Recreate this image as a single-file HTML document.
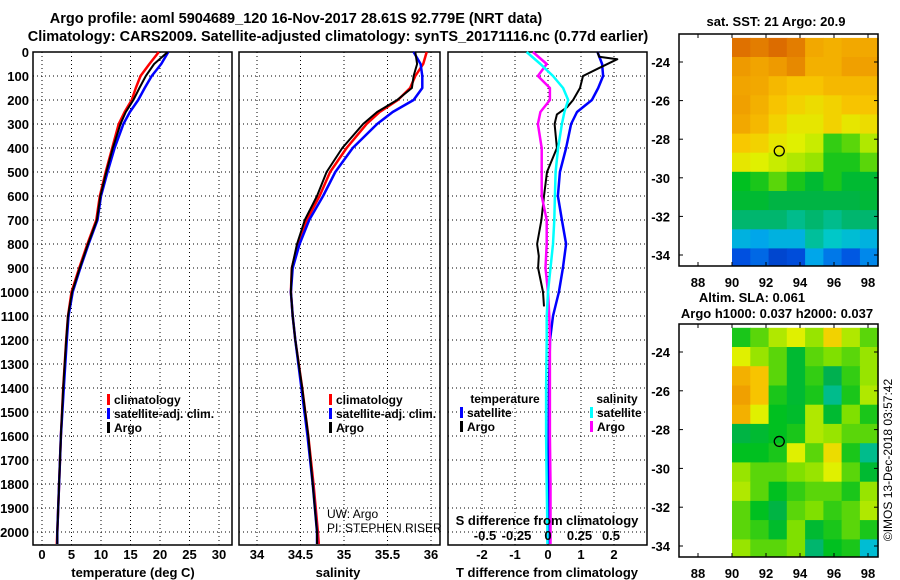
<!DOCTYPE html>
<html><head><meta charset="utf-8"><style>
html,body{margin:0;padding:0;background:#fff;}
svg{display:block;font-family:"Liberation Sans",sans-serif;font-weight:bold;}
</style></head><body>
<svg id="c" width="900" height="580" viewBox="0 0 900 580">
<text x="296" y="23" font-size="14.5" text-anchor="middle">Argo profile: aoml 5904689_120 16-Nov-2017 28.61S 92.779E (NRT data)</text>
<text x="338" y="41" font-size="14.5" text-anchor="middle">Climatology: CARS2009. Satellite-adjusted climatology: synTS_20171116.nc (0.77d earlier)</text>
</svg>
<script>
// ---------- data ----------
const depths = [0,50,100,150,200,250,300,400,500,600,700,800,900,1000,1100,1200,1400,1600,1800,2000,2050];
const tempClim = [19.8,18.2,16.7,15.9,15.2,14.0,13.0,11.9,10.8,9.8,9.2,7.7,6.3,5.0,4.4,4.1,3.6,3.2,2.9,2.6,2.5];
const tempSat  = [21.4,20.2,18.6,17.4,16.3,14.9,13.8,12.3,11.1,10.0,9.4,7.9,6.5,5.2,4.5,4.2,3.7,3.2,2.9,2.6,2.6];
const tempArgo = [21.3,19.0,17.6,16.5,15.5,14.2,13.3,12.0,10.9,9.9,9.3,7.8,6.4,5.1,4.4,4.1,3.6,3.2,2.9,2.6,2.6];
const salClim = [35.95,35.91,35.82,35.76,35.62,35.41,35.26,35.03,34.84,34.72,34.57,34.47,34.4,34.39,34.41,34.44,34.52,34.59,34.65,34.70,34.71];
const salSat  = [35.80,35.88,35.90,35.90,35.80,35.56,35.38,35.10,34.90,34.76,34.60,34.49,34.41,34.39,34.41,34.44,34.51,34.58,34.64,34.69,34.69];
const salArgo = [35.82,35.84,35.80,35.78,35.61,35.38,35.22,34.98,34.80,34.69,34.55,34.46,34.40,34.39,34.41,34.44,34.52,34.59,34.64,34.69,34.69];
const tdiffSat = [1.5,1.64,1.67,1.52,1.33,0.88,0.7,0.55,0.36,0.3,0.42,0.55,0.45,0.33,0.15,0.06,0.03,0.02,0.02,0.03,0.03];
const dArgoDepths = [0,20,30,70,100,150,200,230,260,300,400,500,600,700,800,850,900,1000,1060];
const tdiffArgo = [1.5,1.55,2.1,1.5,1.06,0.97,0.76,0.58,0.27,0.2,0.27,-0.03,-0.12,-0.2,-0.33,-0.28,-0.3,-0.15,-0.12];
const sdiffSat = [-0.17,-0.06,0.04,0.12,0.16,0.13,0.11,0.08,0.06,0.055,0.05,0.04,0.02,0.0,-0.01,-0.01,-0.015,-0.015,-0.01,-0.005,-0.005];
const sdiffArgo = [-0.12,-0.01,-0.08,0.015,0.015,-0.06,-0.08,-0.05,-0.05,-0.05,-0.01,-0.01,-0.02,0.0,0.01,0.015,0.015,0.015,0.02,0.02,0.02];
const depthTicks = [0,100,200,300,400,500,600,700,800,900,1000,1100,1200,1300,1400,1500,1600,1700,1800,1900,2000];
const tempTicks = [0,5,10,15,20,25,30];
const salTicks = [34,34.5,35,35.5,36];
const salTickLabels = ["34","34.5","35","35.5","36"];
const tdTicks = [-2,-1,0,1,2];
const sdTicks = [-0.5,-0.25,0,0.25,0.5];
const sdTickLabels = ["-0.5","-0.25","0","0.25","0.5"];
const lonTicks = [88,90,92,94,96,98];
const latTicks = [-24,-26,-28,-30,-32,-34];
const floatLon = 92.78, floatLat = -28.61;
const sstGrid = [
[0.92,0.9,0.93,0.9,0.82,0.8,0.82,0.82],
[0.85,0.83,0.85,0.88,0.8,0.8,0.84,0.84],
[0.83,0.82,0.78,0.75,0.75,0.78,0.78,0.78],
[0.84,0.8,0.75,0.72,0.7,0.72,0.75,0.75],
[0.82,0.78,0.72,0.68,0.68,0.72,0.68,0.7],
[0.74,0.72,0.68,0.66,0.64,0.52,0.55,0.62],
[0.68,0.66,0.64,0.62,0.6,0.5,0.5,0.55],
[0.48,0.5,0.55,0.5,0.45,0.5,0.45,0.45],
[0.45,0.45,0.42,0.42,0.42,0.42,0.42,0.44],
[0.38,0.38,0.38,0.36,0.38,0.36,0.38,0.38],
[0.28,0.26,0.28,0.28,0.35,0.32,0.3,0.28],
[0.15,0.18,0.12,0.14,0.26,0.2,0.16,0.22]];
const slaGrid = [
[0.5,0.55,0.62,0.66,0.6,0.72,0.62,0.55],
[0.66,0.6,0.55,0.45,0.55,0.58,0.55,0.6],
[0.8,0.75,0.55,0.45,0.52,0.4,0.52,0.6],
[0.84,0.75,0.5,0.45,0.5,0.36,0.5,0.62],
[0.8,0.66,0.48,0.46,0.62,0.45,0.58,0.5],
[0.42,0.45,0.48,0.5,0.62,0.6,0.55,0.55],
[0.48,0.48,0.5,0.66,0.55,0.7,0.5,0.36],
[0.6,0.55,0.55,0.58,0.6,0.66,0.55,0.45],
[0.62,0.55,0.48,0.52,0.55,0.55,0.5,0.6],
[0.55,0.48,0.42,0.55,0.58,0.52,0.55,0.62],
[0.55,0.52,0.46,0.58,0.45,0.5,0.55,0.5],
[0.6,0.55,0.55,0.58,0.38,0.48,0.5,0.3]];

// ---------- helpers ----------
const svg = document.getElementById('c');
const NS = 'http://www.w3.org/2000/svg';
function mk(tag, attrs, parent){const e=document.createElementNS(NS,tag);for(const k in attrs)e.setAttribute(k,attrs[k]);(parent||svg).appendChild(e);return e;}
function txt(x,y,s,size,anchor,parent){const e=mk('text',{x:x,y:y,'font-size':size,'text-anchor':anchor||'middle'},parent);e.textContent=s;return e;}
const Y = d => 52 + d*0.24;
const TOP=52, BOT=545;
const xT = v => 42 + v*5.9;
const xS = v => 257 + (v-34)*87;
const xTD = v => 548 + v*33;
const xSD = v => 548 + v*126;

function panel(name,x0,x1,gridXs){
  const g=mk('g',{});
  
  
  depthTicks.forEach(d=>{ if(d>0) mk('line',{x1:x0,x2:x1,y1:Y(d),y2:Y(d),stroke:'#000','stroke-width':1,'stroke-dasharray':'1,3'},g);});
  gridXs.forEach(x=>mk('line',{x1:x,x2:x,y1:TOP,y2:BOT,stroke:'#000','stroke-width':1,'stroke-dasharray':'1,3'},g));
  mk('rect',{x:x0,y:TOP,width:x1-x0,height:BOT-TOP,fill:'none',stroke:'#000','stroke-width':1.5},g);
  return g;
}
function line(g,xs,ds,fx,color,name,w){
  const pts=xs.map((v,i)=>fx(v).toFixed(1)+','+Y(ds[i]).toFixed(1)).join(' ');
  const p=mk('polyline',{points:pts,fill:'none',stroke:color,'stroke-width':w||2.5,'stroke-linejoin':'round'},g);
  
  
}
function legend(g,x,y,color,label,anchor){
  mk('rect',{x:x,y:y-10,width:3,height:11,fill:color},g);
  const t=txt(x+7,y,label,12,'start',g);
  
  
}

// depth axis labels
depthTicks.forEach(d=>{const t=txt(29,Y(d)+5,String(d),13,'end');
  
  });

// panel 1 temperature
const p1=panel('temperature-panel',33,232,tempTicks.map(xT));
line(p1,tempClim,depths,xT,'#ff0000','temp-climatology-line');
line(p1,tempSat,depths,xT,'#0000ff','temp-satellite-line');
line(p1,tempArgo,depths,xT,'#000000','temp-argo-line',2);
tempTicks.forEach(v=>{const t=txt(xT(v),559,String(v),13);
  
  });
txt(133,577,'temperature (deg C)',13);
legend(p1,107,404,'#ff0000','climatology');
legend(p1,107,418,'#0000ff','satellite-adj. clim.');
legend(p1,107,432,'#000000','Argo');

// panel 2 salinity
const p2=panel('salinity-panel',239,440,salTicks.map(xS));
line(p2,salClim,depths,xS,'#ff0000','sal-climatology-line');
line(p2,salSat,depths,xS,'#0000ff','sal-satellite-line');
line(p2,salArgo,depths,xS,'#000000','sal-argo-line',2);
salTicks.forEach((v,i)=>{const t=txt(xS(v),559,salTickLabels[i],13);
  
  });
txt(338,577,'salinity',13);
legend(p2,329,404,'#ff0000','climatology');
legend(p2,329,418,'#0000ff','satellite-adj. clim.');
legend(p2,329,432,'#000000','Argo');
const n1=txt(327,518,'UW: Argo',12,'start'); n1.setAttribute('font-weight','normal');
const n2=txt(327,532,'PI: STEPHEN RISER',12,'start'); n2.setAttribute('font-weight','normal');

// panel 3 differences
const p3=panel('difference-panel',448,647,tdTicks.map(xTD));
line(p3,tdiffSat,depths,xTD,'#0000ff','tdiff-satellite-line');
line(p3,tdiffArgo,dArgoDepths,xTD,'#000000','tdiff-argo-line',2);
line(p3,sdiffArgo,depths,xSD,'#ff00ff','sdiff-argo-line');
line(p3,sdiffSat,depths,xSD,'#00ffff','sdiff-satellite-line');
tdTicks.forEach(v=>{const t=txt(xTD(v),559,String(v),13);
  
  });
sdTicks.forEach((v,i)=>{const t=txt(xSD(v),540,sdTickLabels[i],13);
  
  });
txt(547,525,'S difference from climatology',13);
txt(547,577,'T difference from climatology',13);
txt(505,403,'temperature',12);
txt(617,403,'salinity',12);
legend(p3,460,417,'#0000ff','satellite');
legend(p3,460,431,'#000000','Argo');
legend(p3,590,417,'#00ffff','satellite');
legend(p3,590,431,'#ff00ff','Argo');

// ---------- maps ----------
const cstops=[[0,[0,32,140]],[0.15,[0,80,224]],[0.25,[0,160,240]],[0.32,[0,200,200]],[0.4,[0,176,80]],[0.48,[0,192,32]],[0.58,[128,224,0]],[0.66,[224,240,0]],[0.74,[248,200,0]],[0.84,[240,160,0]],[0.95,[216,96,0]],[1,[200,80,0]]];
function cmap(v){for(let i=1;i<cstops.length;i++){if(v<=cstops[i][0]){const a=cstops[i-1],b=cstops[i];const t=(v-a[0])/(b[0]-a[0]);const c=a[1].map((q,k)=>Math.round(q+(b[1][k]-q)*t));return 'rgb('+c.join(',')+')';}}return 'rgb(200,80,0)';}
function map(name,top,bot,grid,lat24y,lat34y){
  const g=mk('g',{});
  
  
  const L=679,R=878;
  const lx = lon => 698 + (lon-88)*17;
  const ly = lat => lat24y + (-24-lat)*(lat34y-lat24y)/10;
  const rows=grid.length, cols=grid[0].length;
  const lonA=90, lonB=98.6, latA=-22.75, latB=-34.65;
  grid.forEach((row,r)=>row.forEach((v,c)=>{
    const x0=lx(lonA+(lonB-lonA)*c/cols), x1=lx(lonA+(lonB-lonA)*(c+1)/cols);
    const y0=Math.max(top,ly(latA+(latB-latA)*r/rows)), y1=Math.min(bot,ly(latA+(latB-latA)*(r+1)/rows));
    const cell=mk('rect',{x:x0.toFixed(1),y:y0.toFixed(1),width:(x1-x0+0.5).toFixed(1),height:(y1-y0+0.5).toFixed(1),fill:cmap(v)},g);
    
    
  }));
  mk('rect',{x:L,y:top,width:R-L,height:bot-top,fill:'none',stroke:'#000','stroke-width':1.5},g);
  lonTicks.forEach(v=>{mk('line',{x1:lx(v),x2:lx(v),y1:bot,y2:bot-4,stroke:'#000'},g);mk('line',{x1:lx(v),x2:lx(v),y1:top,y2:top+4,stroke:'#000'},g);
    const t=txt(lx(v),bot+21,String(v),13,'middle',g);
    
    });
  latTicks.forEach(v=>{mk('line',{x1:L,x2:L+4,y1:ly(v),y2:ly(v),stroke:'#000'},g);mk('line',{x1:R,x2:R-4,y1:ly(v),y2:ly(v),stroke:'#000'},g);
    const t=txt(L-9,ly(v)+5,String(v),13,'end',g);
    
    });
  const m=mk('circle',{cx:lx(floatLon),cy:ly(floatLat),r:5,fill:'none',stroke:'#000','stroke-width':1.3},g);
  
  
}
map('sst-map',34,266,sstGrid,62,255);
txt(776,26,'sat. SST: 21 Argo: 20.9',13);
map('sla-map',324,557,slaGrid,352,546);
txt(752,302,'Altim. SLA: 0.061',13);
txt(777,318,'Argo h1000: 0.037 h2000: 0.037',13);
const cp=txt(0,0,'©IMOS 13-Dec-2018 03:57:42',12);
cp.setAttribute('font-weight','normal');
cp.setAttribute('transform','translate(892,460) rotate(-90)');


</script>
</body></html>
